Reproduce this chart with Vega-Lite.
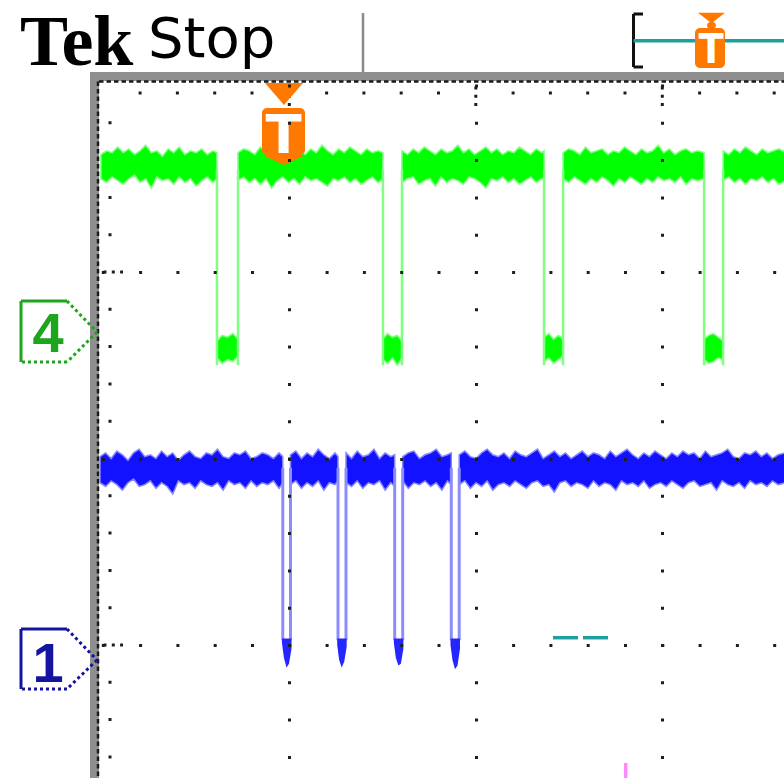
{
"$schema": "https://vega.github.io/schema/vega-lite/v6.json",
"width": 685, "height": 698,
"autosize": {"type": "none"},
"padding": {"left": 99, "top": 80, "right": 0, "bottom": 0},
"background": "white",
"config": {"view": {"stroke": null}},
"datasets": {
"bands": [{"x":-0.0686,"x2":3.70,"y":-0.0724,"y2":-0.0241},{"x":-0.0686,"x2":-0.0204,"y":-0.0724,"y2":3.75}],
"sep": [{"x":1.3952,"x2":1.3952,"y":-0.3887,"y2":-0.0724}],
"borderDots": [{"x":-0.0204,"x2":3.70,"y":-0.0214,"y2":-0.0214},{"x":-0.0257,"x2":-0.0257,"y":-0.0214,"y2":3.75}],
"minorTicks": [{"x":0.1,"x2":0.9,"y":0.0402,"y2":0.0402},{"x":1.1,"x2":1.9,"y":0.0402,"y2":0.0402},{"x":2.1,"x2":2.9,"y":0.0402,"y2":0.0402},{"x":3.1,"x2":3.70,"y":0.0402,"y2":0.0402},{"x":0.0386,"x2":0.0386,"y":0.1,"y2":0.9},{"x":0.0386,"x2":0.0386,"y":1.1,"y2":1.9},{"x":0.0386,"x2":0.0386,"y":2.1,"y2":2.9},{"x":0.0386,"x2":0.0386,"y":3.1,"y2":3.75}],
"majorTicks": [{"x":1,"x2":1,"y":0.0054,"y2":0.1099},{"x":2,"x2":2,"y":0.0054,"y2":0.1099},{"x":3,"x2":3,"y":0.0054,"y2":0.1099},{"x":0.0038,"x2":0.1083,"y":1,"y2":1},{"x":0.0038,"x2":0.1083,"y":2,"y2":2},{"x":0.0038,"x2":0.1083,"y":3,"y2":3}],
"bracket": [{"x":2.8456,"x2":2.8456,"y":-0.3834,"y2":-0.0992},{"x":2.8456,"x2":2.8965,"y":-0.3834,"y2":-0.3834},{"x":2.8456,"x2":2.8965,"y":-0.0992,"y2":-0.0992}],
"teal": [{"x":2.8456,"x2":3.70,"y":-0.2402,"y2":-0.2402},{"x":2.4139,"x2":2.5480,"y":2.9609,"y2":2.9609},{"x":2.5748,"x2":2.7088,"y":2.9609,"y2":2.9609}],
"magenta": [{"x":2.8038,"x2":2.8038,"y":3.6327,"y2":3.75}],
"chOutline": [
{"ch":"4","part":"solid","x":-0.4386,"y":1.4826,"x2":-0.4386,"y2":1.1555},
{"ch":"4","part":"solid","x":-0.4386,"y":1.1555,"x2":-0.1920,"y2":1.1555},
{"ch":"4","part":"dotted","x":-0.1920,"y":1.1555,"x2":-0.0311,"y2":1.3217},
{"ch":"4","part":"dotted","x":-0.0311,"y":1.3217,"x2":-0.1920,"y2":1.4826},
{"ch":"4","part":"dotted","x":-0.1920,"y":1.4826,"x2":-0.4386,"y2":1.4826},
{"ch":"1","part":"solid","x":-0.4386,"y":3.2359,"x2":-0.4386,"y2":2.9142},
{"ch":"1","part":"solid","x":-0.4386,"y":2.9142,"x2":-0.1920,"y2":2.9142},
{"ch":"1","part":"dotted","x":-0.1920,"y":2.9142,"x2":-0.0311,"y2":3.0804},
{"ch":"1","part":"dotted","x":-0.0311,"y":3.0804,"x2":-0.1920,"y2":3.2359},
{"ch":"1","part":"dotted","x":-0.1920,"y":3.2359,"x2":-0.4386,"y2":3.2359}],
"chLabel": [{"ch":"4","x":-0.2938,"y":1.4290,"label":"4"},{"ch":"1","x":-0.2938,"y":3.1984,"label":"1"}],
"tek": [{"x":-0.4440,"y":-0.1099,"label":"Tek"}],
"stop": [{"x":0.2424,"y":-0.1528,"label":"Stop"}],
"tBox": [{"x":0.8536,"x2":1.0842,"y":0.1206,"y2":0.3727},{"x":3.1753,"x2":3.3362,"y":-0.3083,"y2":-0.0938},{"x":3.2397,"x2":3.2879,"y":-0.3405,"y2":-0.3029}],
"triBig": [{"x":0.9716,"y":0.0456}],
"notch": [{"x":0.9716,"y":0.3995}],
"triSmall": [{"x":3.2638,"y":-0.3619}],
"tBig": [{"x":0.9689,"y":0.3619,"label":"T"}],
"tSmall": [{"x":3.2611,"y":-0.1206,"label":"T"}],
"greenEdges": [{"x":0.612,"x2":0.612,"y":0.45,"y2":1.50},{"x":0.725,"x2":0.725,"y":0.45,"y2":1.50},{"x":1.502,"x2":1.502,"y":0.45,"y2":1.50},{"x":1.604,"x2":1.604,"y":0.45,"y2":1.50},{"x":2.366,"x2":2.366,"y":0.45,"y2":1.50},{"x":2.468,"x2":2.468,"y":0.45,"y2":1.50},{"x":3.224,"x2":3.224,"y":0.45,"y2":1.50},{"x":3.326,"x2":3.326,"y":0.45,"y2":1.50}],
"blueEdges": [{"x":0.9651,"x2":0.9651,"y":2.05,"y2":2.975},{"x":1.0064,"x2":1.0064,"y":2.05,"y2":2.975},{"x":1.2611,"x2":1.2611,"y":2.05,"y2":2.975},{"x":1.3040,"x2":1.3040,"y":2.05,"y2":2.975},{"x":1.5651,"x2":1.5651,"y":2.05,"y2":2.975},{"x":1.6080,"x2":1.6080,"y":2.05,"y2":2.975},{"x":1.8686,"x2":1.8686,"y":2.05,"y2":2.975},{"x":1.9110,"x2":1.9110,"y":2.05,"y2":2.975}],
"blobs": [
{"s":"p1","x":0.9608,"y":2.965,"y2":2.99},{"s":"p1","x":0.9715,"y":2.965,"y2":3.07},{"s":"p1","x":0.9849,"y":2.965,"y2":3.12},{"s":"p1","x":0.9983,"y":2.965,"y2":3.10},{"s":"p1","x":1.0117,"y":2.965,"y2":3.02},
{"s":"p2","x":1.2568,"y":2.965,"y2":3.00},{"s":"p2","x":1.2675,"y":2.965,"y2":3.08},{"s":"p2","x":1.2809,"y":2.965,"y2":3.12},{"s":"p2","x":1.2943,"y":2.965,"y2":3.09},{"s":"p2","x":1.3077,"y":2.965,"y2":3.01},
{"s":"p3","x":1.5608,"y":2.965,"y2":2.99},{"s":"p3","x":1.5715,"y":2.965,"y2":3.07},{"s":"p3","x":1.5849,"y":2.965,"y2":3.11},{"s":"p3","x":1.5983,"y":2.965,"y2":3.10},{"s":"p3","x":1.6117,"y":2.965,"y2":3.02},
{"s":"p4","x":1.8643,"y":2.965,"y2":3.00},{"s":"p4","x":1.8750,"y":2.965,"y2":3.08},{"s":"p4","x":1.8884,"y":2.965,"y2":3.13},{"s":"p4","x":1.9018,"y":2.965,"y2":3.11},{"s":"p4","x":1.9152,"y":2.965,"y2":3.02}],
"green": [
{"s":"g1","x":-0.010,"y":0.37,"y2":0.50},{"s":"g1","x":0.020,"y":0.35,"y2":0.52},{"s":"g1","x":0.050,"y":0.36,"y2":0.49},{"s":"g1","x":0.080,"y":0.33,"y2":0.51},{"s":"g1","x":0.110,"y":0.36,"y2":0.53},{"s":"g1","x":0.140,"y":0.34,"y2":0.50},{"s":"g1","x":0.170,"y":0.37,"y2":0.48},{"s":"g1","x":0.200,"y":0.35,"y2":0.52},{"s":"g1","x":0.230,"y":0.32,"y2":0.50},{"s":"g1","x":0.260,"y":0.36,"y2":0.55},{"s":"g1","x":0.290,"y":0.35,"y2":0.49},{"s":"g1","x":0.320,"y":0.38,"y2":0.51},{"s":"g1","x":0.350,"y":0.34,"y2":0.50},{"s":"g1","x":0.380,"y":0.36,"y2":0.53},{"s":"g1","x":0.410,"y":0.33,"y2":0.49},{"s":"g1","x":0.440,"y":0.37,"y2":0.52},{"s":"g1","x":0.470,"y":0.35,"y2":0.50},{"s":"g1","x":0.500,"y":0.36,"y2":0.54},{"s":"g1","x":0.530,"y":0.34,"y2":0.51},{"s":"g1","x":0.560,"y":0.37,"y2":0.49},{"s":"g1","x":0.590,"y":0.35,"y2":0.52},{"s":"g1","x":0.612,"y":0.36,"y2":0.50},
{"s":"gl1","x":0.612,"y":1.37,"y2":1.46},{"s":"gl1","x":0.640,"y":1.34,"y2":1.49},{"s":"gl1","x":0.668,"y":1.35,"y2":1.47},{"s":"gl1","x":0.697,"y":1.33,"y2":1.48},{"s":"gl1","x":0.725,"y":1.36,"y2":1.45},
{"s":"g2","x":0.725,"y":0.36,"y2":0.51},{"s":"g2","x":0.755,"y":0.34,"y2":0.49},{"s":"g2","x":0.785,"y":0.35,"y2":0.52},{"s":"g2","x":0.815,"y":0.37,"y2":0.50},{"s":"g2","x":0.845,"y":0.33,"y2":0.53},{"s":"g2","x":0.875,"y":0.36,"y2":0.50},{"s":"g2","x":0.905,"y":0.35,"y2":0.55},{"s":"g2","x":0.935,"y":0.37,"y2":0.51},{"s":"g2","x":0.965,"y":0.34,"y2":0.49},{"s":"g2","x":0.995,"y":0.36,"y2":0.52},{"s":"g2","x":1.025,"y":0.33,"y2":0.50},{"s":"g2","x":1.055,"y":0.35,"y2":0.53},{"s":"g2","x":1.085,"y":0.37,"y2":0.49},{"s":"g2","x":1.115,"y":0.34,"y2":0.51},{"s":"g2","x":1.145,"y":0.36,"y2":0.50},{"s":"g2","x":1.175,"y":0.32,"y2":0.52},{"s":"g2","x":1.205,"y":0.35,"y2":0.54},{"s":"g2","x":1.235,"y":0.37,"y2":0.50},{"s":"g2","x":1.265,"y":0.34,"y2":0.51},{"s":"g2","x":1.295,"y":0.36,"y2":0.49},{"s":"g2","x":1.325,"y":0.33,"y2":0.52},{"s":"g2","x":1.355,"y":0.35,"y2":0.50},{"s":"g2","x":1.385,"y":0.37,"y2":0.53},{"s":"g2","x":1.415,"y":0.34,"y2":0.51},{"s":"g2","x":1.445,"y":0.36,"y2":0.49},{"s":"g2","x":1.475,"y":0.35,"y2":0.52},{"s":"g2","x":1.502,"y":0.36,"y2":0.50},
{"s":"gl2","x":1.502,"y":1.36,"y2":1.47},{"s":"gl2","x":1.527,"y":1.33,"y2":1.49},{"s":"gl2","x":1.553,"y":1.35,"y2":1.46},{"s":"gl2","x":1.579,"y":1.34,"y2":1.50},{"s":"gl2","x":1.604,"y":1.37,"y2":1.46},
{"s":"g3","x":1.604,"y":0.35,"y2":0.52},{"s":"g3","x":1.634,"y":0.37,"y2":0.50},{"s":"g3","x":1.664,"y":0.34,"y2":0.49},{"s":"g3","x":1.694,"y":0.36,"y2":0.53},{"s":"g3","x":1.724,"y":0.33,"y2":0.51},{"s":"g3","x":1.754,"y":0.35,"y2":0.50},{"s":"g3","x":1.784,"y":0.37,"y2":0.54},{"s":"g3","x":1.814,"y":0.34,"y2":0.49},{"s":"g3","x":1.844,"y":0.36,"y2":0.52},{"s":"g3","x":1.874,"y":0.35,"y2":0.50},{"s":"g3","x":1.904,"y":0.32,"y2":0.51},{"s":"g3","x":1.934,"y":0.36,"y2":0.53},{"s":"g3","x":1.964,"y":0.34,"y2":0.49},{"s":"g3","x":1.994,"y":0.37,"y2":0.50},{"s":"g3","x":2.024,"y":0.35,"y2":0.52},{"s":"g3","x":2.054,"y":0.33,"y2":0.55},{"s":"g3","x":2.084,"y":0.36,"y2":0.50},{"s":"g3","x":2.114,"y":0.34,"y2":0.51},{"s":"g3","x":2.144,"y":0.37,"y2":0.49},{"s":"g3","x":2.174,"y":0.35,"y2":0.52},{"s":"g3","x":2.204,"y":0.36,"y2":0.50},{"s":"g3","x":2.234,"y":0.33,"y2":0.53},{"s":"g3","x":2.264,"y":0.35,"y2":0.51},{"s":"g3","x":2.294,"y":0.37,"y2":0.49},{"s":"g3","x":2.324,"y":0.34,"y2":0.52},{"s":"g3","x":2.354,"y":0.36,"y2":0.50},{"s":"g3","x":2.366,"y":0.35,"y2":0.51},
{"s":"gl3","x":2.366,"y":1.35,"y2":1.48},{"s":"gl3","x":2.392,"y":1.33,"y2":1.46},{"s":"gl3","x":2.417,"y":1.36,"y2":1.49},{"s":"gl3","x":2.443,"y":1.34,"y2":1.47},{"s":"gl3","x":2.468,"y":1.36,"y2":1.45},
{"s":"g4","x":2.468,"y":0.36,"y2":0.50},{"s":"g4","x":2.498,"y":0.34,"y2":0.52},{"s":"g4","x":2.528,"y":0.35,"y2":0.49},{"s":"g4","x":2.558,"y":0.37,"y2":0.51},{"s":"g4","x":2.588,"y":0.33,"y2":0.53},{"s":"g4","x":2.618,"y":0.36,"y2":0.50},{"s":"g4","x":2.648,"y":0.35,"y2":0.52},{"s":"g4","x":2.678,"y":0.34,"y2":0.49},{"s":"g4","x":2.708,"y":0.37,"y2":0.51},{"s":"g4","x":2.738,"y":0.35,"y2":0.54},{"s":"g4","x":2.768,"y":0.36,"y2":0.50},{"s":"g4","x":2.798,"y":0.33,"y2":0.52},{"s":"g4","x":2.828,"y":0.35,"y2":0.49},{"s":"g4","x":2.858,"y":0.37,"y2":0.51},{"s":"g4","x":2.888,"y":0.34,"y2":0.53},{"s":"g4","x":2.918,"y":0.36,"y2":0.50},{"s":"g4","x":2.948,"y":0.35,"y2":0.52},{"s":"g4","x":2.978,"y":0.32,"y2":0.49},{"s":"g4","x":3.008,"y":0.36,"y2":0.51},{"s":"g4","x":3.038,"y":0.34,"y2":0.50},{"s":"g4","x":3.068,"y":0.37,"y2":0.52},{"s":"g4","x":3.098,"y":0.35,"y2":0.49},{"s":"g4","x":3.128,"y":0.34,"y2":0.53},{"s":"g4","x":3.158,"y":0.36,"y2":0.50},{"s":"g4","x":3.188,"y":0.35,"y2":0.51},{"s":"g4","x":3.224,"y":0.36,"y2":0.50},
{"s":"gl4","x":3.224,"y":1.36,"y2":1.47},{"s":"gl4","x":3.249,"y":1.34,"y2":1.49},{"s":"gl4","x":3.275,"y":1.33,"y2":1.48},{"s":"gl4","x":3.300,"y":1.35,"y2":1.46},{"s":"gl4","x":3.326,"y":1.37,"y2":1.47},
{"s":"g5","x":3.326,"y":0.35,"y2":0.51},{"s":"g5","x":3.356,"y":0.37,"y2":0.49},{"s":"g5","x":3.386,"y":0.34,"y2":0.52},{"s":"g5","x":3.416,"y":0.36,"y2":0.50},{"s":"g5","x":3.446,"y":0.33,"y2":0.53},{"s":"g5","x":3.476,"y":0.35,"y2":0.50},{"s":"g5","x":3.506,"y":0.37,"y2":0.51},{"s":"g5","x":3.536,"y":0.34,"y2":0.49},{"s":"g5","x":3.566,"y":0.36,"y2":0.52},{"s":"g5","x":3.596,"y":0.35,"y2":0.50},{"s":"g5","x":3.626,"y":0.34,"y2":0.53},{"s":"g5","x":3.660,"y":0.36,"y2":0.51}],
"blue": [
{"s":"b1","x":-0.015,"y":1.99,"y2":2.13},{"s":"b1","x":0.015,"y":1.97,"y2":2.15},{"s":"b1","x":0.045,"y":2.00,"y2":2.12},{"s":"b1","x":0.075,"y":1.96,"y2":2.14},{"s":"b1","x":0.105,"y":1.98,"y2":2.17},{"s":"b1","x":0.135,"y":2.01,"y2":2.13},{"s":"b1","x":0.165,"y":1.97,"y2":2.11},{"s":"b1","x":0.195,"y":1.95,"y2":2.15},{"s":"b1","x":0.225,"y":1.99,"y2":2.14},{"s":"b1","x":0.255,"y":1.98,"y2":2.12},{"s":"b1","x":0.285,"y":2.00,"y2":2.16},{"s":"b1","x":0.315,"y":1.96,"y2":2.13},{"s":"b1","x":0.345,"y":1.99,"y2":2.15},{"s":"b1","x":0.375,"y":1.97,"y2":2.19},{"s":"b1","x":0.405,"y":2.01,"y2":2.12},{"s":"b1","x":0.435,"y":1.98,"y2":2.14},{"s":"b1","x":0.465,"y":1.96,"y2":2.13},{"s":"b1","x":0.495,"y":1.99,"y2":2.16},{"s":"b1","x":0.525,"y":2.00,"y2":2.12},{"s":"b1","x":0.555,"y":1.97,"y2":2.14},{"s":"b1","x":0.585,"y":1.98,"y2":2.15},{"s":"b1","x":0.615,"y":1.95,"y2":2.13},{"s":"b1","x":0.645,"y":1.99,"y2":2.17},{"s":"b1","x":0.675,"y":2.00,"y2":2.12},{"s":"b1","x":0.705,"y":1.97,"y2":2.14},{"s":"b1","x":0.735,"y":1.98,"y2":2.13},{"s":"b1","x":0.765,"y":1.96,"y2":2.16},{"s":"b1","x":0.795,"y":2.00,"y2":2.12},{"s":"b1","x":0.825,"y":1.99,"y2":2.15},{"s":"b1","x":0.855,"y":1.97,"y2":2.13},{"s":"b1","x":0.885,"y":1.98,"y2":2.14},{"s":"b1","x":0.915,"y":2.00,"y2":2.12},{"s":"b1","x":0.945,"y":1.97,"y2":2.16},{"s":"b1","x":0.965,"y":1.99,"y2":2.13},
{"s":"b2","x":1.0064,"y":1.98,"y2":2.14},{"s":"b2","x":1.035,"y":1.96,"y2":2.12},{"s":"b2","x":1.065,"y":2.00,"y2":2.16},{"s":"b2","x":1.095,"y":1.97,"y2":2.13},{"s":"b2","x":1.125,"y":1.99,"y2":2.15},{"s":"b2","x":1.155,"y":1.95,"y2":2.12},{"s":"b2","x":1.185,"y":1.98,"y2":2.17},{"s":"b2","x":1.215,"y":2.00,"y2":2.13},{"s":"b2","x":1.245,"y":1.97,"y2":2.14},{"s":"b2","x":1.2611,"y":1.99,"y2":2.12},
{"s":"b3","x":1.304,"y":1.97,"y2":2.13},{"s":"b3","x":1.334,"y":2.00,"y2":2.15},{"s":"b3","x":1.364,"y":1.96,"y2":2.12},{"s":"b3","x":1.394,"y":1.99,"y2":2.16},{"s":"b3","x":1.424,"y":1.98,"y2":2.13},{"s":"b3","x":1.454,"y":1.95,"y2":2.14},{"s":"b3","x":1.484,"y":2.00,"y2":2.12},{"s":"b3","x":1.514,"y":1.97,"y2":2.17},{"s":"b3","x":1.544,"y":1.99,"y2":2.13},{"s":"b3","x":1.5651,"y":1.98,"y2":2.15},
{"s":"b4","x":1.608,"y":1.99,"y2":2.12},{"s":"b4","x":1.638,"y":1.97,"y2":2.16},{"s":"b4","x":1.668,"y":1.96,"y2":2.13},{"s":"b4","x":1.698,"y":2.00,"y2":2.14},{"s":"b4","x":1.728,"y":1.98,"y2":2.12},{"s":"b4","x":1.758,"y":1.97,"y2":2.15},{"s":"b4","x":1.788,"y":1.95,"y2":2.13},{"s":"b4","x":1.818,"y":1.99,"y2":2.17},{"s":"b4","x":1.848,"y":1.98,"y2":2.12},{"s":"b4","x":1.8686,"y":1.97,"y2":2.14},
{"s":"b5","x":1.911,"y":1.98,"y2":2.14},{"s":"b5","x":1.941,"y":1.96,"y2":2.12},{"s":"b5","x":1.971,"y":1.99,"y2":2.16},{"s":"b5","x":2.001,"y":2.00,"y2":2.13},{"s":"b5","x":2.031,"y":1.97,"y2":2.15},{"s":"b5","x":2.061,"y":1.95,"y2":2.12},{"s":"b5","x":2.091,"y":1.98,"y2":2.17},{"s":"b5","x":2.121,"y":1.99,"y2":2.14},{"s":"b5","x":2.151,"y":1.97,"y2":2.13},{"s":"b5","x":2.181,"y":2.00,"y2":2.15},
{"s":"b5","x":2.211,"y":1.96,"y2":2.12},{"s":"b5","x":2.241,"y":1.98,"y2":2.14},{"s":"b5","x":2.271,"y":1.99,"y2":2.16},{"s":"b5","x":2.301,"y":1.97,"y2":2.13},{"s":"b5","x":2.331,"y":1.95,"y2":2.12},{"s":"b5","x":2.361,"y":2.00,"y2":2.15},{"s":"b5","x":2.391,"y":1.98,"y2":2.14},{"s":"b5","x":2.421,"y":1.96,"y2":2.18},{"s":"b5","x":2.451,"y":1.99,"y2":2.13},{"s":"b5","x":2.481,"y":1.97,"y2":2.12},
{"s":"b5","x":2.511,"y":2.00,"y2":2.15},{"s":"b5","x":2.541,"y":1.98,"y2":2.13},{"s":"b5","x":2.571,"y":1.96,"y2":2.14},{"s":"b5","x":2.601,"y":1.99,"y2":2.16},{"s":"b5","x":2.631,"y":1.97,"y2":2.12},{"s":"b5","x":2.661,"y":1.98,"y2":2.15},{"s":"b5","x":2.691,"y":2.00,"y2":2.13},{"s":"b5","x":2.721,"y":1.96,"y2":2.14},{"s":"b5","x":2.751,"y":1.99,"y2":2.17},{"s":"b5","x":2.781,"y":1.97,"y2":2.12},
{"s":"b5","x":2.811,"y":1.95,"y2":2.14},{"s":"b5","x":2.841,"y":1.98,"y2":2.13},{"s":"b5","x":2.871,"y":2.00,"y2":2.15},{"s":"b5","x":2.901,"y":1.97,"y2":2.12},{"s":"b5","x":2.931,"y":1.99,"y2":2.16},{"s":"b5","x":2.961,"y":1.96,"y2":2.14},{"s":"b5","x":2.991,"y":1.98,"y2":2.13},{"s":"b5","x":3.021,"y":2.00,"y2":2.15},{"s":"b5","x":3.051,"y":1.97,"y2":2.12},{"s":"b5","x":3.081,"y":1.99,"y2":2.14},
{"s":"b5","x":3.111,"y":1.96,"y2":2.16},{"s":"b5","x":3.141,"y":1.98,"y2":2.13},{"s":"b5","x":3.171,"y":1.97,"y2":2.12},{"s":"b5","x":3.201,"y":2.00,"y2":2.15},{"s":"b5","x":3.231,"y":1.96,"y2":2.14},{"s":"b5","x":3.261,"y":1.99,"y2":2.13},{"s":"b5","x":3.291,"y":1.98,"y2":2.17},{"s":"b5","x":3.321,"y":1.97,"y2":2.12},{"s":"b5","x":3.351,"y":1.95,"y2":2.14},{"s":"b5","x":3.381,"y":1.99,"y2":2.15},
{"s":"b5","x":3.411,"y":2.00,"y2":2.13},{"s":"b5","x":3.441,"y":1.97,"y2":2.16},{"s":"b5","x":3.471,"y":1.98,"y2":2.12},{"s":"b5","x":3.501,"y":1.96,"y2":2.14},{"s":"b5","x":3.531,"y":1.99,"y2":2.13},{"s":"b5","x":3.561,"y":1.97,"y2":2.15},{"s":"b5","x":3.591,"y":2.00,"y2":2.12},{"s":"b5","x":3.621,"y":1.98,"y2":2.14},{"s":"b5","x":3.660,"y":1.97,"y2":2.13}]
},
"encoding": {
  "x": {"field": "x", "type": "quantitative", "scale": {"domain": [-0.020375, 3.652547], "nice": false, "zero": false},
        "axis": {"orient": "top", "values": [1, 2, 3], "grid": true, "gridDash": [3, 34.3], "gridDashOffset": 33.3, "gridWidth": 3, "gridColor": "#1e1e1e", "gridOpacity": 1, "labels": false, "ticks": false, "domain": false, "title": null, "zindex": 1}},
  "y": {"field": "y", "type": "quantitative", "scale": {"domain": [-0.029491, 3.713136], "reverse": true, "nice": false, "zero": false},
        "axis": {"orient": "left", "values": [1, 2, 3], "grid": true, "gridDash": [3, 34.3], "gridDashOffset": 35.0, "gridWidth": 3, "gridColor": "#1e1e1e", "gridOpacity": 1, "labels": false, "ticks": false, "domain": false, "title": null, "zindex": 1}}
},
"layer": [
  {"data": {"name": "bands"}, "mark": {"type": "rect", "color": "#8f8f8f"}, "encoding": {"x2": {"field": "x2"}, "y2": {"field": "y2"}}},
  {"data": {"name": "sep"}, "mark": {"type": "rule", "color": "#8a8a8a", "strokeWidth": 2.5}, "encoding": {"x2": {"field": "x2"}, "y2": {"field": "y2"}}},
  {"data": {"name": "borderDots"}, "mark": {"type": "rule", "color": "#1a1a1a", "strokeWidth": 2.5, "strokeDash": [4.5, 3]}, "encoding": {"x2": {"field": "x2"}, "y2": {"field": "y2"}}},
  {"data": {"name": "minorTicks"}, "mark": {"type": "rule", "color": "#1e1e1e", "strokeWidth": 3, "strokeDash": [3, 34.3], "strokeDashOffset": 20.15}, "encoding": {"x2": {"field": "x2"}, "y2": {"field": "y2"}}},
  {"data": {"name": "majorTicks"}, "mark": {"type": "rule", "color": "#1e1e1e", "strokeWidth": 3, "strokeDash": [3, 5.3]}, "encoding": {"x2": {"field": "x2"}, "y2": {"field": "y2"}}},
  {"data": {"name": "tek"}, "mark": {"type": "text", "font": "Liberation Serif", "fontWeight": "bold", "fontSize": 72, "align": "left", "baseline": "alphabetic", "color": "#000000"}, "encoding": {"text": {"field": "label"}}},
  {"data": {"name": "stop"}, "mark": {"type": "text", "font": "DejaVu Sans", "fontSize": 56, "align": "left", "baseline": "alphabetic", "color": "#000000"}, "encoding": {"text": {"field": "label"}}},
  {"data": {"name": "bracket"}, "mark": {"type": "rule", "color": "#111111", "strokeWidth": 3}, "encoding": {"x2": {"field": "x2"}, "y2": {"field": "y2"}}},
  {"data": {"name": "teal"}, "mark": {"type": "rule", "color": "#1f9f9f", "strokeWidth": 3.5}, "encoding": {"x2": {"field": "x2"}, "y2": {"field": "y2"}}},
  {"data": {"name": "magenta"}, "mark": {"type": "rule", "color": "#ff88ff", "strokeWidth": 3.5}, "encoding": {"x2": {"field": "x2"}, "y2": {"field": "y2"}}},
  {"data": {"name": "chOutline"}, "mark": {"type": "rule", "strokeWidth": 3},
   "encoding": {"x2": {"field": "x2"}, "y2": {"field": "y2"},
     "color": {"field": "ch", "type": "nominal", "scale": {"domain": ["1", "4"], "range": ["#1414a0", "#1ea51e"]}, "legend": null},
     "strokeDash": {"field": "part", "type": "nominal", "scale": {"domain": ["solid", "dotted"], "range": [[1, 0], [3, 3]]}, "legend": null}}},
  {"data": {"name": "chLabel"}, "mark": {"type": "text", "font": "Liberation Sans", "fontWeight": "bold", "fontSize": 56, "align": "center", "baseline": "alphabetic"},
   "encoding": {"text": {"field": "label"}, "color": {"field": "ch", "type": "nominal", "scale": {"domain": ["1", "4"], "range": ["#1414a0", "#1ea51e"]}, "legend": null}}},
  {"data": {"name": "green"}, "mark": {"type": "area", "color": "#00ff00", "stroke": "#80ff80", "strokeWidth": 1.5, "opacity": 1}, "encoding": {"y2": {"field": "y2"}, "detail": {"field": "s"}}},
  {"data": {"name": "greenEdges"}, "mark": {"type": "rule", "color": "#80ff80", "strokeWidth": 2.5}, "encoding": {"x2": {"field": "x2"}, "y2": {"field": "y2"}}},
  {"data": {"name": "blue"}, "mark": {"type": "area", "color": "#1212ff", "stroke": "#8585ff", "strokeWidth": 1.5, "opacity": 1}, "encoding": {"y2": {"field": "y2"}, "detail": {"field": "s"}}},
  {"data": {"name": "blueEdges"}, "mark": {"type": "rule", "color": "#8c8cff", "strokeWidth": 3}, "encoding": {"x2": {"field": "x2"}, "y2": {"field": "y2"}}},
  {"data": {"name": "blobs"}, "mark": {"type": "area", "color": "#2525ff", "opacity": 1}, "encoding": {"y2": {"field": "y2"}, "detail": {"field": "s"}}},
  {"data": {"name": "tBox"}, "mark": {"type": "rect", "color": "#ff7800", "cornerRadius": 5}, "encoding": {"x2": {"field": "x2"}, "y2": {"field": "y2"}}},
  {"data": {"name": "triBig"}, "mark": {"type": "point", "shape": "M-1,-0.58L1,-0.58L0,0.58Z", "size": 1444, "filled": true, "color": "#ff7800", "opacity": 1}},
  {"data": {"name": "notch"}, "mark": {"type": "point", "shape": "M-1,-0.23L1,-0.23L0,0.23Z", "size": 1849, "filled": true, "color": "#ff7800", "opacity": 1}},
  {"data": {"name": "triSmall"}, "mark": {"type": "point", "shape": "M-1,-0.39L1,-0.39L0,0.39Z", "size": 729, "filled": true, "color": "#ff7800", "opacity": 1}},
  {"data": {"name": "tBig"}, "mark": {"type": "text", "font": "DejaVu Sans", "fontWeight": "bold", "fontSize": 53, "align": "center", "baseline": "alphabetic", "color": "#ffffff"}, "encoding": {"text": {"field": "label"}}},
  {"data": {"name": "tSmall"}, "mark": {"type": "text", "font": "DejaVu Sans Condensed, DejaVu Sans", "fontWeight": "bold", "fontSize": 41, "align": "center", "baseline": "alphabetic", "color": "#ffffff"}, "encoding": {"text": {"field": "label"}}}
]
}
